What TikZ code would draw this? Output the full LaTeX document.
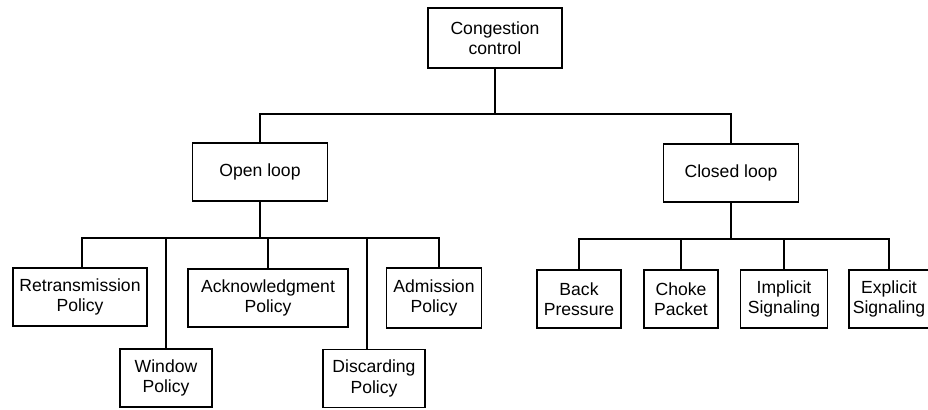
\documentclass[tikz,border=0pt]{standalone}
\usepackage{fontspec}
\setsansfont{Liberation Sans}
\usepackage{tikz}
\usetikzlibrary{positioning, calc}
\tikzset{
  %% ---- boxes ----
  box/.style    = {rectangle, draw=black, line width=1.1pt,
                   fill=white, minimum width=#1, minimum height=1.45cm,
                   align=center, inner sep=1pt,
                   font=\sffamily\fontsize{12.5}{14.5}\selectfont},
  box/.default  = 3.35cm,
  %% ---- connectors ----
  link/.style   = {line width=1.1pt, color=black},
}
\begin{document}
\begin{tikzpicture}[x=0.025cm, y=-0.025cm]
\useasboundingbox (0,0) rectangle (928,409);
\node[box=3.35cm, minimum height=1.5cm] (cong) at (495,38) {Congestion\\control};
\node[box=3.375cm] (open)   at (260,172) {Open loop};
\node[box=3.375cm] (closed) at (731,173) {Closed loop};
%% open loop children
\node[box=3.35cm]  (retx)    at (80,297)    {Retransmission\\Policy};
\node[box=2.3cm]   (window)  at (166,378)   {Window\\Policy};
\node[box=4.0cm]   (ack)     at (268,298)   {Acknowledgment\\Policy};
\node[box=2.55cm]  (discard) at (374,378.5) {Discarding\\Policy};
\node[box=2.375cm, minimum height=1.5cm] (admit) at (434,298) {Admission\\Policy};
%% closed loop children
\node[box=2.1cm]   (back)     at (579,299)   {Back\\Pressure};
\node[box=1.85cm]  (choke)    at (681,299)   {Choke\\Packet};
\node[box=2.175cm] (implicit) at (784,299)   {Implicit\\Signaling};
\node[box=2.0cm]   (explicit) at (889,299)   {Explicit\\Signaling};
%% tree lines
\draw[link] (cong.south) -- ++(0,45) -| (open.north);
\draw[link] (cong.south) -- ++(0,45) -| (closed.north);
\draw[link] (open.south) -- ++(0,36) -| ([xshift=2*0.025cm]retx.north);
\draw[link] (open.south) -- ++(0,36) -| (window.north);
\draw[link] (open.south) -- ++(0,36) -| (ack.north);
\draw[link] (open.south) -- ++(0,36) -| ([xshift=-7*0.025cm]discard.north);
\draw[link] (open.south) -- ++(0,36) -| ([xshift=5*0.025cm]admit.north);
\draw[link] (closed.south) -- ++(0,36) -| (back.north);
\draw[link] (closed.south) -- ++(0,36) -| (choke.north);
\draw[link] (closed.south) -- ++(0,36) -| (implicit.north);
\draw[link] (closed.south) -- ++(0,36) -| (explicit.north);
\end{tikzpicture}
\end{document}
